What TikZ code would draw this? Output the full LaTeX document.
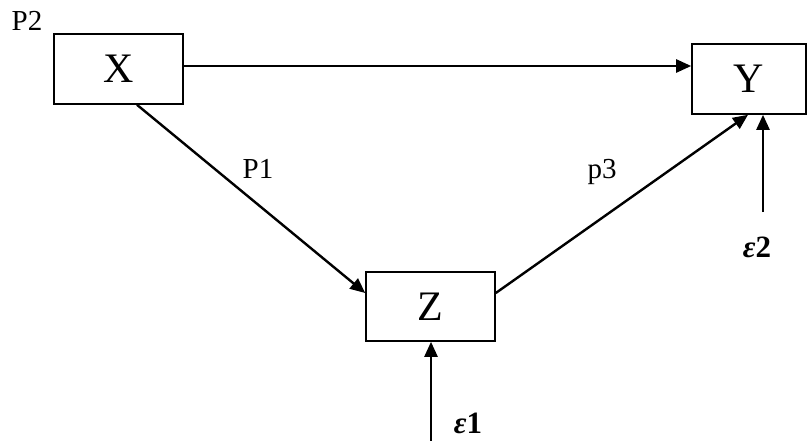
\documentclass[tikz,border=0pt]{standalone}
\usepackage{fontspec}
\setmainfont{Liberation Serif}
\usetikzlibrary{arrows.meta}
\begin{document}
\begin{tikzpicture}[x=1pt,y=-1pt,
  box/.style={draw,line width=1.6pt,inner sep=0pt,font=\fontsize{42}{50}\selectfont},
  arr/.style={line width=2.4pt,-{Triangle[length=15pt,width=13pt]}},
  lbl/.style={inner sep=0pt,font=\fontsize{29}{34}\selectfont},
  eps/.style={inner sep=0pt,font=\fontsize{31}{36}\selectfont\bfseries}]
\useasboundingbox (0,0) rectangle (810,441);
\node[box,minimum width=129pt,minimum height=70pt] (X) at (118.5,69) {X};
\node[box,minimum width=114pt,minimum height=70pt] (Y) at (749,79) {Y};
\node[box,minimum width=129pt,minimum height=69pt] (Z) at (430.5,306.5) {Z};
\node[lbl] (P2) at (27,21) {P2};
\node[lbl] (P1) at (258,169) {P1};
\node[lbl] (P3) at (602,172) {p3};
\node[eps,anchor=base] (E2) at (757,257) {\itshape ε\upshape 2};
\node[eps,anchor=base] (E1) at (468,433) {\itshape ε\upshape 1};
\coordinate (e2) at (763,212);
\coordinate (e1) at (431,441);
\draw[arr] ([yshift=3pt]X.east) -- ([yshift=3pt]X.east -| Y.west);
\draw[arr] ([xshift=18.5pt]X.south) -- ([yshift=13.5pt]Z.west);
\draw[arr] ([yshift=13.5pt]Z.east) -- ([xshift=-1pt]Y.south);
\draw[arr] (e2) -- (e2 |- Y.south);
\draw[arr] (e1) -- (e1 |- Z.south);
\end{tikzpicture}
\end{document}
